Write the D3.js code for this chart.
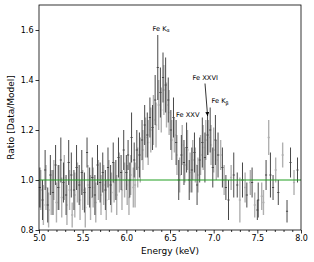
<!DOCTYPE html>
<html><head><meta charset="utf-8">
<script src="https://cdn.jsdelivr.net/npm/d3@7"></script>
<style>body{margin:0;background:#fff}svg{display:block}text{font-family:"DejaVu Sans",sans-serif}</style>
</head><body><div id="c"></div>
<script>
// Series A (dark)
const darkE=[5.01,5.04,5.07,5.10,5.13,5.16,5.19,5.22,5.25,5.28,5.31,5.34,5.37,5.40,5.43,5.46,5.49,5.52,5.55,5.58,5.61,5.64,5.67,5.70,5.73,5.76,5.79,5.82,5.85,5.88,5.91,5.94,5.97,
6.00,6.02,6.04,6.06,6.09,6.12,6.15,6.18,6.21,6.24,6.27,6.30,6.33,6.36,6.39,6.42,6.45,6.48,6.51,6.54,6.57,6.60,6.63,6.66,6.69,6.72,6.75,6.78,6.81,6.84,6.87,6.90,6.93,6.96,6.99,7.02,7.05,7.10,7.14,7.17,7.23,7.27,7.33,7.38,7.44,7.50,7.51,7.60,7.65,7.68,7.74,7.84,7.88,7.96];
const darkR=[0.97,0.92,1.04,0.90,1.02,0.95,1.06,0.97,1.08,0.99,0.94,1.07,1.02,0.96,1.05,0.98,1.03,0.95,1.11,0.97,1.01,0.94,1.06,0.99,1.03,0.96,1.05,0.98,1.07,1.00,1.09,1.03,1.12,
1.03,1.10,1.00,1.17,1.08,1.12,1.10,1.16,1.22,1.18,1.25,1.21,1.32,1.45,1.35,1.41,1.38,1.32,1.20,1.25,1.15,1.00,1.10,1.07,1.13,1.00,1.04,1.11,0.98,1.08,1.15,1.09,1.18,1.20,1.05,1.16,1.10,1.05,0.97,0.92,1.02,0.98,1.00,0.94,0.99,0.88,0.92,1.02,1.02,0.97,0.95,0.875,1.07,1.04];
const darkErr=[0.08,0.08,0.08,0.07,0.08,0.09,0.08,0.09,0.09,0.08,0.08,0.09,0.09,0.08,0.09,0.08,0.09,0.08,0.06,0.08,0.08,0.08,0.08,0.08,0.08,0.08,0.08,0.08,0.08,0.08,0.08,0.07,0.08,
0.07,0.06,0.07,0.10,0.07,0.08,0.09,0.08,0.08,0.09,0.08,0.09,0.10,0.13,0.10,0.10,0.11,0.09,0.08,0.08,0.09,0.08,0.08,0.09,0.10,0.08,0.09,0.08,0.08,0.09,0.10,0.10,0.08,0.09,0.08,0.10,0.09,0.08,0.05,0.08,0.09,0.05,0.07,0.05,0.06,0.04,0.07,0.06,0.09,0.05,0.05,0.045,0.06,0.05];
// Series B (light)
const lightE=[5.02,5.05,5.08,5.11,5.14,5.17,5.20,5.23,5.26,5.29,5.32,5.35,5.38,5.41,5.44,5.47,5.50,5.53,5.56,5.59,5.62,5.65,5.68,5.71,5.74,5.77,5.80,5.83,5.86,5.89,5.92,5.95,5.98,
6.01,6.03,6.05,6.08,6.10,6.13,6.16,6.19,6.22,6.25,6.28,6.31,6.34,6.37,6.40,6.43,6.46,6.49,6.52,6.55,6.58,6.61,6.64,6.67,6.70,6.73,6.76,6.79,6.82,6.85,6.88,6.91,6.94,6.97,7.00,7.03,7.08,7.12,7.20,7.30,7.36,7.42,7.47,7.55,7.57,7.63,7.71,7.79,7.92];
const lightR=[0.96,0.90,0.97,0.88,0.95,1.00,0.91,0.97,0.93,1.01,0.90,0.96,0.86,0.94,0.99,0.92,0.96,0.89,0.98,0.93,0.97,0.91,1.00,0.94,0.98,0.92,1.00,0.95,0.99,0.94,1.03,0.96,1.00,
0.98,0.93,1.02,0.97,0.98,1.05,1.08,1.12,1.17,1.15,1.20,1.24,1.22,1.30,1.28,1.36,1.30,1.27,1.16,1.18,1.10,1.02,1.14,1.06,1.12,1.03,1.08,1.06,1.02,1.10,1.13,1.16,1.17,1.14,1.12,1.08,1.10,1.00,1.01,0.92,0.97,0.99,0.90,0.935,0.91,1.17,1.04,1.10,0.99];
const lightErr=[0.08,0.08,0.09,0.07,0.09,0.08,0.08,0.09,0.08,0.09,0.08,0.08,0.05,0.09,0.08,0.08,0.08,0.08,0.08,0.09,0.08,0.08,0.08,0.08,0.08,0.08,0.08,0.08,0.08,0.08,0.08,0.08,0.07,
0.08,0.07,0.08,0.08,0.09,0.08,0.09,0.08,0.08,0.09,0.09,0.10,0.09,0.10,0.09,0.10,0.09,0.09,0.08,0.07,0.08,0.07,0.08,0.07,0.08,0.08,0.08,0.07,0.07,0.08,0.09,0.08,0.07,0.08,0.09,0.08,0.06,0.06,0.05,0.09,0.06,0.05,0.05,0.055,0.05,0.07,0.05,0.05,0.05];
const xTicks=[5.0,5.5,6.0,6.5,7.0,7.5,8.0];
const yTicks=[0.8,1.0,1.2,1.4,1.6];
const xLabel="Energy (keV)", yLabel="Ratio [Data/Model]";

const W=314,H=262,L=39,R=301,T=5,B=230;
const svg=d3.select("#c").append("svg").attr("width",W).attr("height",H);
const x=d3.scaleLinear().domain([5,8]).range([L,R]);
const y=d3.scaleLinear().domain([0.8,1.7]).range([B,T]);

function drawSeries(E,Rv,Er,color,w){
  const g=svg.append("g").attr("stroke",color).attr("stroke-width",w);
  E.forEach((e,i)=>{
    g.append("line").attr("x1",x(e)).attr("x2",x(e)).attr("y1",y(Rv[i]-Er[i])).attr("y2",y(Rv[i]+Er[i]));
    g.append("line").attr("x1",x(e-0.012)).attr("x2",x(e+0.012)).attr("y1",y(Rv[i])).attr("y2",y(Rv[i]));
  });
}
drawSeries(lightE,lightR,lightErr,"#b0b0b0",1.4);
drawSeries(darkE,darkR,darkErr,"#484848",1);

svg.append("line").attr("x1",L).attr("x2",R).attr("y1",y(1)).attr("y2",y(1)).attr("stroke","#22a022").attr("stroke-width",1.2);

const xa=svg.append("g").attr("transform",`translate(0,${B})`)
 .call(d3.axisBottom(x).tickValues(xTicks).tickFormat(d3.format(".1f")).tickSize(3.5).tickPadding(2));
const xm=svg.append("g").attr("transform",`translate(0,${B})`)
 .call(d3.axisBottom(x).tickValues(d3.range(50,81).map(v=>v/10).filter(v=>Math.abs(v*2-Math.round(v*2))>1e-6)).tickFormat("").tickSize(2));
const ya=svg.append("g").attr("transform",`translate(${L},0)`)
 .call(d3.axisLeft(y).tickValues(yTicks).tickFormat(d3.format(".1f")).tickSize(3.5).tickPadding(2));
[xa,xm,ya].forEach(g=>{g.select(".domain").remove();g.selectAll("line").attr("stroke","#000").attr("stroke-width",0.8);g.selectAll("text").attr("font-size",8).attr("fill","#000").attr("font-family","DejaVu Sans");});

svg.append("rect").attr("x",L).attr("y",T).attr("width",R-L).attr("height",B-T).attr("fill","none").attr("stroke","#000").attr("stroke-width",0.8);

svg.append("text").attr("x",(L+R)/2).attr("y",254).attr("text-anchor","middle").attr("font-size",9).text(xLabel);
svg.append("text").attr("transform",`translate(14,${(T+B)/2}) rotate(-90)`).attr("text-anchor","middle").attr("font-size",9).text(yLabel);

function ann(tx,ty,main,sub){
  const t=svg.append("text").attr("x",tx).attr("y",ty).attr("font-size",6.7).attr("fill","#000").text(main);
  if(sub) t.append("tspan").attr("font-size",4.8).attr("dy",1.6).text(sub);
}
ann(152.5,30.7,"Fe K","α");
ann(192.5,79.7,"Fe XXVI");
ann(211.5,103.2,"Fe K","β");
ann(176,117.4,"Fe XXV");
svg.append("defs").append("marker").attr("id","ah").attr("viewBox","0 0 10 10").attr("refX",10).attr("refY",5)
 .attr("markerWidth",5).attr("markerHeight",5).attr("orient","auto")
 .append("path").attr("d","M0,0L10,5L0,10z").attr("fill","#000");
svg.append("line").attr("x1",205).attr("y1",83.5).attr("x2",207.6).attr("y2",116).attr("stroke","#000").attr("stroke-width",0.8).attr("marker-end","url(#ah)");
</script></body></html>
